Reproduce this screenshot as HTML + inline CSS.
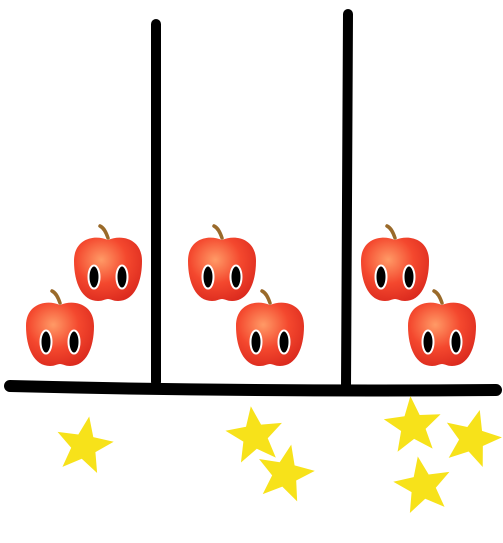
<!DOCTYPE html>
<html><head><meta charset="utf-8"><style>
html,body{margin:0;padding:0;background:#fff;}
svg{display:block;}
</style></head><body>
<svg width="503" height="543" viewBox="0 0 503 543">
<defs>
<radialGradient id="ag" cx="0.4" cy="0.35" r="0.75">
<stop offset="0" stop-color="#ff9a66"/>
<stop offset="0.5" stop-color="#f4482e"/>
<stop offset="1" stop-color="#d8261c"/>
</radialGradient>
<g id="apple">
<path d="M0,-29 C-2,-35 -4,-39 -8,-41" stroke="#9a6a2a" stroke-width="3.5" fill="none" stroke-linecap="round"/>
<path d="M0,-27 C14,-33 34,-28 34,-6 C34,16 26,34 10,34 C5,34 3,32 0,32 C-3,32 -5,34 -10,34 C-26,34 -34,16 -34,-6 C-34,-28 -14,-33 0,-27 Z" fill="url(#ag)"/>
<ellipse cx="-14" cy="10" rx="5.5" ry="11.5" fill="#000" stroke="#fff" stroke-width="2"/>
<ellipse cx="14" cy="10" rx="5.5" ry="11.5" fill="#000" stroke="#fff" stroke-width="2"/>
</g>
<polygon id="star" points="0,-30 7.6,-10.4 28.5,-9.3 12.3,4 17.6,24.3 0,12.9 -17.6,24.3 -12.3,4 -28.5,-9.3 -7.6,-10.4" fill="#f7e21a"/>
</defs>
<g stroke="#000" stroke-linecap="round" fill="none">
<path d="M10,386 Q250,392 496,390" stroke-width="12"/>
<path d="M156,24 L156,382" stroke-width="10"/>
<path d="M348,14 L346,388" stroke-width="10"/>
</g>
<g>
<use href="#apple" x="108" y="267"/>
<use href="#apple" x="60" y="332"/>
<use href="#apple" x="222" y="267"/>
<use href="#apple" x="270" y="332"/>
<use href="#apple" x="395" y="267"/>
<use href="#apple" x="442" y="332"/>
</g>
<g>
<use href="#star" transform="translate(84,446) rotate(10)"/>
<use href="#star" transform="translate(255,436) rotate(-8)"/>
<use href="#star" transform="translate(285,474) rotate(12)"/>
<use href="#star" transform="translate(413,426) rotate(-5)"/>
<use href="#star" transform="translate(472,439) rotate(15)"/>
<use href="#star" transform="translate(423,486) rotate(-10)"/>
</g>
</svg>
</body></html>
